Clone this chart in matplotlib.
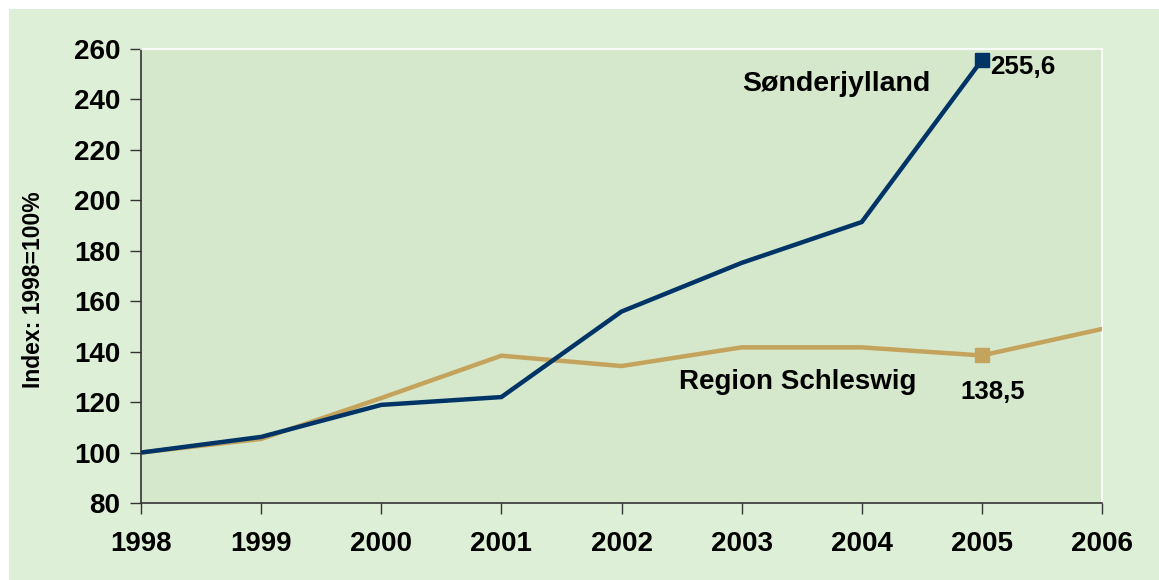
import matplotlib
matplotlib.use("Agg")
import matplotlib.pyplot as plt
from matplotlib.patches import Rectangle

years = [1998, 1999, 2000, 2001, 2002, 2003, 2004, 2005, 2006]
sonderjylland = [100, 106.2, 118.9, 122.0, 155.9, 175.2, 191.4, 255.6]
schleswig = [100, 105.4, 121.6, 138.4, 134.3, 141.7, 141.7, 138.5, 149.0]
yticks = [80, 100, 120, 140, 160, 180, 200, 220, 240, 260]

plt.rcParams['font.family'] = ['Liberation Sans', 'DejaVu Sans']

navy = '#003366'
tan = '#C4A35C'

fig = plt.figure(figsize=(11.59, 5.80), dpi=100, facecolor='white')
fig.patches.append(Rectangle((9/1159, 0), 1 - 9/1159, 1 - 9/580, transform=fig.transFigure,
                             facecolor='#DEEFD8', edgecolor='none', zorder=-10))
ax = fig.add_axes([141/1159, 1 - 503/580, (1102 - 141)/1159, (503 - 49)/580])
ax.set_zorder(1)
ax.set_facecolor('#D5E8CC')

ax.plot(years[:len(schleswig)], schleswig, color=tan, lw=3.2, solid_joinstyle='miter', zorder=3)
ax.plot(years[:len(sonderjylland)], sonderjylland, color=navy, lw=3.2, solid_joinstyle='miter', zorder=4)
ax.plot([years[7]], [schleswig[7]], 's', color=tan, ms=10, zorder=5)
ax.plot([years[7]], [sonderjylland[7]], 's', color=navy, ms=10, zorder=5)

ax.set_xlim(1998, 2006)
ax.set_ylim(80, 260)
ax.set_xticks(years)
ax.set_yticks(yticks)
ax.tick_params(axis='both', direction='out', length=8, width=1, color='#333333',
               labelsize=20, pad=7)
for lab in ax.get_xticklabels() + ax.get_yticklabels():
    lab.set_fontweight('bold')
ax.tick_params(axis='x', pad=12)

for s in ['left', 'bottom']:
    ax.spines[s].set_color('#333333')
    ax.spines[s].set_linewidth(1.2)
for s in ['top', 'right']:
    ax.spines[s].set_color('white')
    ax.spines[s].set_linewidth(1.2)

ax.set_ylabel('Index: 1998=100%', fontsize=16.5, fontweight='bold')
ax.yaxis.set_label_coords(-0.1, 0.47)

ax.text(2003.79, 246.1, 'Sønderjylland', fontsize=20.5, fontweight='bold', ha='center', va='center')
ax.text(2003.47, 128, 'Region Schleswig', fontsize=20, fontweight='bold', ha='center', va='center')
ax.text(2005.07, 252.9, '255,6', fontsize=18.7, fontweight='bold', ha='left', va='center')
ax.text(2005.09, 124, '138,5', fontsize=18.5, fontweight='bold', ha='center', va='center')

fig.savefig('out.png', dpi=100, facecolor='white')
